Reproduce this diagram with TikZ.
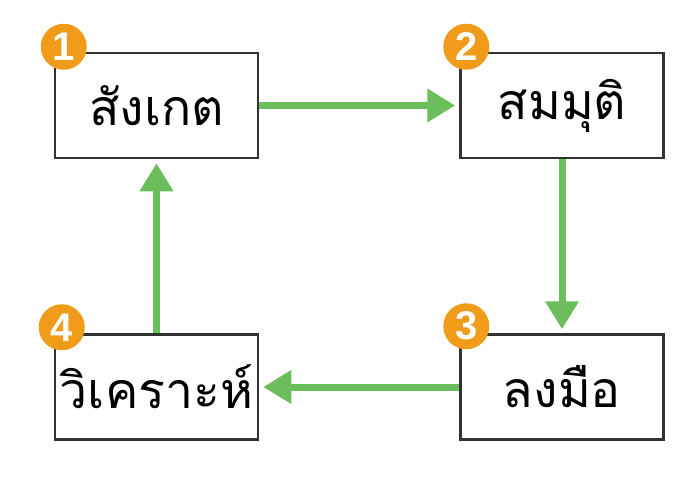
\documentclass[tikz,border=0pt]{standalone}
\usepackage{fontspec}
\setmainfont{Liberation Sans}
\newfontfamily\thaifont[Script=Thai]{Loma}
\usepackage{tikz}
\usetikzlibrary{positioning,arrows.meta,calc}

\definecolor{stepgreen}{RGB}{108,190,92}
\definecolor{steporange}{RGB}{240,156,26}
\definecolor{boxgray}{RGB}{50,50,50}

\begin{document}
\begin{tikzpicture}[x=1pt,y=-1pt,
    box/.style={draw=boxgray,line width=2.5pt,fill=white,minimum width=203pt,minimum height=105pt,
      font=\thaifont\fontsize{50}{54}\selectfont},
    num/.style={circle,fill=steporange,text=white,minimum size=46pt,inner sep=0pt,
      font=\bfseries\fontsize{40}{40}\selectfont},
    arr/.style={-{Triangle[length=28pt,width=32pt]},draw=stepgreen,line width=7pt,shorten >=4pt}]

    \useasboundingbox (0,0) rectangle (698,481);

    \node[box] (A) at (156.5,105.5) {สังเกต};
    \node[box] (B) at (562,105.5) {สมมุติ};
    \node[box] (C) at (562,387) {ลงมือ};
    \node[box] (D) at (156.5,387) {วิเคราะห์};

    \node[num] (nA) at ($(A.north west)+(10,-5)$) {1};
    \node[num] (nB) at ($(B.north west)+(7,-5)$) {2};
    \node[num] (nC) at ($(C.north west)+(7,-7)$) {3};
    \node[num] (nD) at ($(D.north west)+(8,-6)$) {4};

    \draw[arr] (A) -- (B);
    \draw[arr] (B) -- (C);
    \draw[arr] (C) -- (D);
    \draw[arr] (D) -- (A);
\end{tikzpicture}
\end{document}
